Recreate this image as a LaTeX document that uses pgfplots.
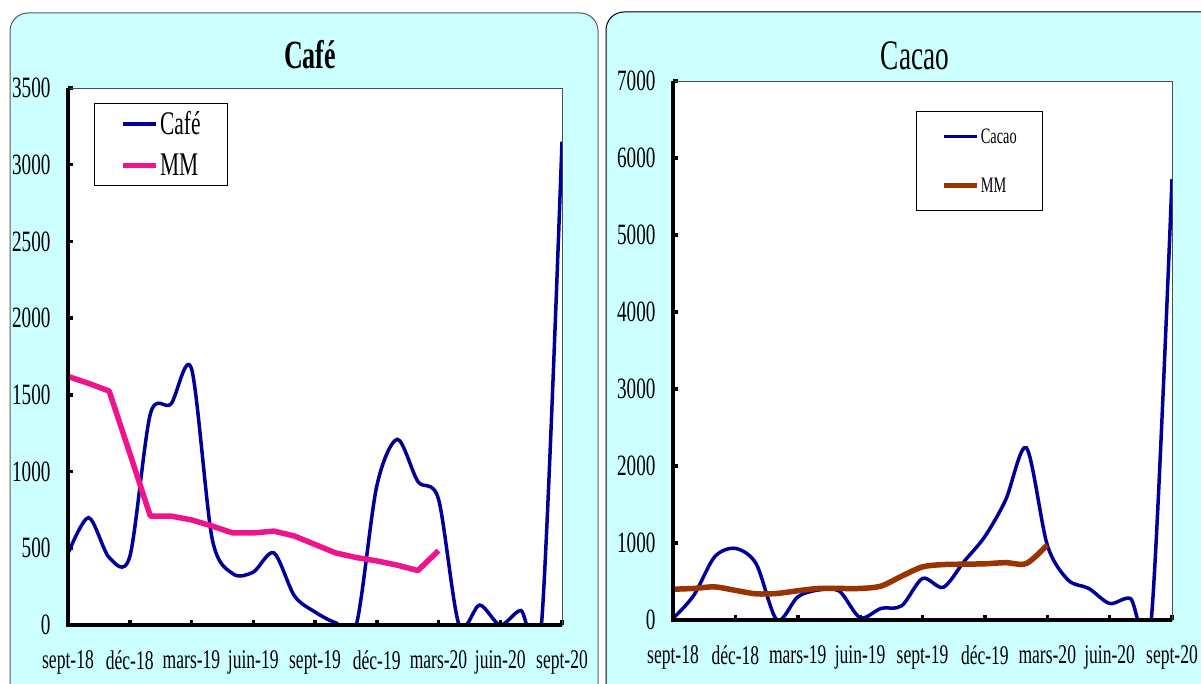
\documentclass[border=0pt]{standalone}
\usepackage{fontspec}
\setmainfont[FakeStretch=0.65]{Liberation Serif}
\usepackage{pgfplots}
\usepackage{pgfplotstable}
\pgfplotsset{compat=1.18}
\definecolor{panel}{HTML}{CCFFFF}
\definecolor{navy}{HTML}{000099}
\definecolor{pinkmm}{HTML}{F0148C}
\definecolor{brownmm}{HTML}{993300}
\newcommand\fs[1]{\fontsize{#1bp}{#1bp}\selectfont}

\pgfplotstableread{
x cafe
0 465
1 700
2 440
3 445
4 1375
5 1440
6 1670
7 565
8 335
9 345
10 470
11 190
12 85
13 15
14 0
15 905
16 1210
17 935
18 820
19 0
20 130
21 0
22 95
23 0
24 3150
}\cafe
\pgfplotstableread{
x mm
0 1620
1 1575
2 1525
3 1120
4 710
5 710
6 685
7 645
8 600
9 600
10 612
11 580
12 525
13 470
14 440
15 418
16 390
17 355
18 485
}\cafemm
\pgfplotstableread{
x cacao
0 20
1 320
2 820
3 930
4 730
5 0
6 300
7 390
8 375
9 30
10 150
11 185
12 540
13 425
14 760
15 1085
16 1560
17 2235
18 975
19 520
20 410
21 215
22 280
23 0
24 5725
}\cacao
\pgfplotstableread{
x mm
0 400
1 410
2 430
3 385
4 340
5 345
6 380
7 410
8 410
9 410
10 440
11 570
12 690
13 720
14 725
15 730
16 745
17 735
18 975
}\cacaomm

\pgfplotsset{
 panelaxis/.style={
  scale only axis, anchor=south west,
  xmin=0, xmax=24, xtick={0,3,...,24},
  xticklabels={sept-18,déc-18,mars-19,juin-19,sept-19,déc-19,mars-20,juin-20,sept-20},
  ymin=0,
  tick align=inside, xtick pos=left, ytick pos=left,
  major tick length=5bp,
  every tick/.style={black, line width=3.5bp},
  axis line style={gray!60!black, line width=0.8bp},
  axis background/.style={fill=white},
  /pgf/number format/assume math mode=true,
  /pgf/number format/1000 sep={},
  yticklabel style={font=\fs{29.5}, xshift=-14bp},
  xticklabel style={font=\fs{27}, yshift=-22bp},
  clip mode=individual,
  legend cell align=left,
  legend image code/.code={\draw[##1] (0bp,0bp) -- (33bp,0bp);},
 }
}

\begin{document}
\begin{tikzpicture}[x=1bp,y=-1bp]
\useasboundingbox (0,0) rectangle (1201,684);
\begin{scope}
\clip (0,0) rectangle (1201,684);
\draw[fill=panel, draw=gray!70!black, line width=1bp, rounded corners=18bp] (10,13) rectangle (598,705);
\draw[fill=panel, draw=black, line width=1bp, rounded corners=18bp] (606,12) rectangle (1230,705);
\end{scope}

\node[font=\fs{40}\bfseries] at (310,55) {Café};
\node[font=\fs{42}] at (915,56) {Cacao};

% Cafe
\begin{axis}[panelaxis, at={(68bp,-625bp)}, width=494bp, height=537bp,
  ymax=3500, ytick={0,500,...,3500},
  legend style={at={(0.053,0.972)}, anchor=north west, draw=black, line width=0.8bp,
    fill=white, font=\fs{33}, inner xsep=26bp, inner ysep=7bp, row sep=16bp,
    nodes={inner sep=1bp}},
]
\addplot[navy, line width=3.5bp, smooth, tension=0.5] table[x=x,y=cafe] {\cafe};
\addlegendentry{Café}
\addplot[pinkmm, line width=5.5bp, line join=round] table[x=x,y=mm] {\cafemm};
\addlegendentry{MM}
\draw[black, line width=4bp] (rel axis cs:0,1) -- (rel axis cs:0,0) -- (rel axis cs:1,0);
\end{axis}

% Cacao
\begin{axis}[panelaxis, at={(673bp,-620bp)}, width=499bp, height=539bp,
  ymax=7000, ytick={0,1000,...,7000},
  legend style={at={(0.487,0.944)}, anchor=north west, draw=black, line width=0.8bp,
    fill=white, font=\fs{22}, inner xsep=25bp, inner ysep=16bp, row sep=31bp,
    nodes={inner sep=1bp}},
]
\addplot[navy, line width=3.5bp, smooth, tension=0.5] table[x=x,y=cacao] {\cacao};
\addlegendentry{Cacao}
\addplot[brownmm, line width=5.5bp, smooth, tension=0.5] table[x=x,y=mm] {\cacaomm};
\addlegendentry{MM}
\draw[black, line width=4bp] (rel axis cs:0,1) -- (rel axis cs:0,0) -- (rel axis cs:1,0);
\end{axis}
\end{tikzpicture}
\end{document}
